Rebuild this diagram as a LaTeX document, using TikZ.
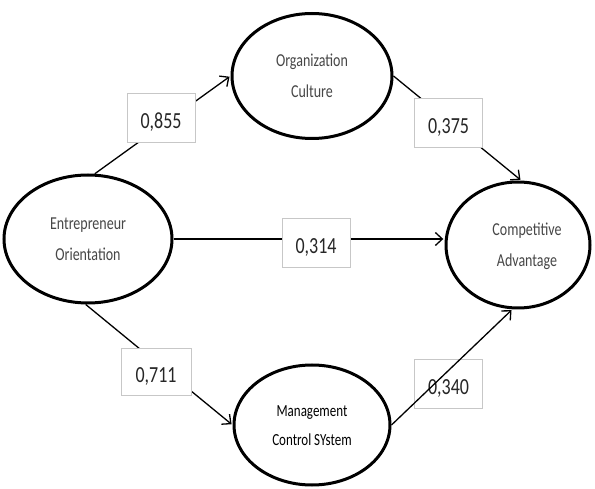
\documentclass[tikz,border=0pt]{standalone}
\usepackage{fontspec}
\setmainfont{Carlito}
\usetikzlibrary{shapes.geometric,arrows.meta}
\newcommand{\twol}[2]{\scalebox{1}[1.3]{\begin{tabular}{@{}c@{}}#1\\#2\end{tabular}}}
\newcommand{\cf}[1]{\scalebox{1}[1.28]{#1}\hspace{7pt}}
\begin{document}
\begin{tikzpicture}[x=1pt,y=-1pt,
  latent/.style={ellipse, draw=black, line width=3pt, inner sep=0pt, fill=white,
    text=black!72, font=\fontsize{14}{23.5}\selectfont},
  coef/.style={draw=black!22, line width=0.8pt, fill=white, minimum width=68pt,
    minimum height=49pt, inner sep=0pt, text=black!85, text height=21.6pt, text depth=0pt,
    font=\fontsize{18}{20}\selectfont},
  pathar/.style={line width=1.3pt, shorten >=1.2pt,
    -{Straight Barb[length=7pt,width=13pt,line width=1.3pt]}},
]
\useasboundingbox (0,0) rectangle (595,489);
\fill[white] (0,0) rectangle (595,489);

\node[latent, minimum width=168pt, minimum height=128pt] (eo) at (88,239) {\twol{Entrepreneur}{Orientation}};
\node[latent, minimum width=160pt, minimum height=125pt] (oc) at (312,76) {\twol{Organization}{Culture}};
\node[latent, minimum width=144pt, minimum height=126pt] (ca) at (518,245) {\hspace*{18pt}\twol{Competitive}{Advantage}};
\node[latent, minimum width=156pt, minimum height=120pt, text=black, font=\fontsize{13}{23}\selectfont] (mcs) at (312,425) {\twol{Management}{Control SYstem}};

\draw[pathar] (eo.84) -- (oc.west);
\draw[pathar] (oc.east) -- (ca.87);
\draw[pathar, line width=2.6pt] (eo.east) -- (eo.east -| ca.west);
\draw[pathar] (eo.-92) -- (mcs.west);

\node[coef] (b1) at (161,117.5) {\cf{0,855}};
\node[coef] (b2) at (448.5,122.5) {\cf{0,375}};
\node[coef] (b3) at (316,242.5) {\cf{0,314}};
\node[coef, minimum width=70pt, minimum height=47pt] (b4) at (156,371.5) {\cf{0,711}};
\node[coef, fill=none] (b5) at (448.5,383.5) {\cf{0,340}};

\draw[pathar] (mcs.east) -- (ca.-95);
\end{tikzpicture}
\end{document}
